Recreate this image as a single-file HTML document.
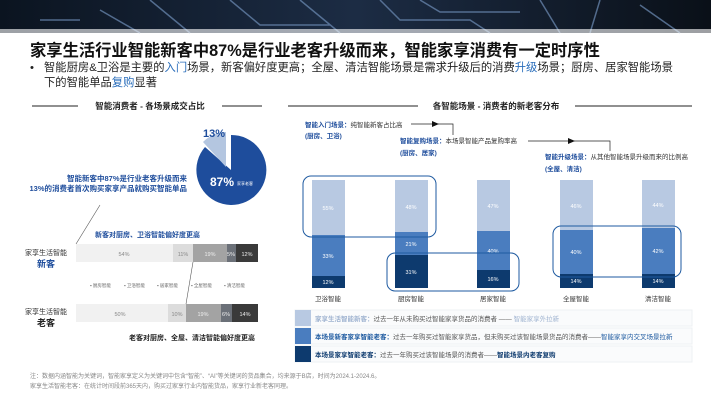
<!DOCTYPE html><html><head><meta charset="utf-8"><style>
body{margin:0;width:711px;height:400px;overflow:hidden;background:#fff;font-family:"Liberation Sans","Noto Sans CJK SC",sans-serif}
</style></head><body>
<svg width="711" height="400" viewBox="0 0 711 400" xmlns="http://www.w3.org/2000/svg" font-family="Liberation Sans, Noto Sans CJK SC, sans-serif">
<defs><linearGradient id="hg" x1="0" y1="0" x2="1" y2="0"><stop offset="0" stop-color="#0b1420"/><stop offset=".5" stop-color="#1c2c44"/><stop offset="1" stop-color="#0a1018"/></linearGradient></defs>
<rect x="0" y="0" width="711" height="33" fill="url(#hg)"/>
<g stroke="#6f8fb8" stroke-width="1.5" fill="none" opacity=".7">
<path d="M150 0 L190 33 M230 0 L260 25 L330 25 M300 0 L340 33 M380 0 L400 20 L470 20 L490 33 M420 0 L440 12 L520 12 M540 0 L560 33 M600 0 L590 33 M640 5 L680 33 M100 10 L140 33 M40 20 L80 20"/></g>
<rect x="0" y="29" width="711" height="5" fill="#fff" opacity=".6"/>
<text x="30" y="56" font-size="16.3" font-weight="bold" fill="#111">家享生活行业智能新客中87%是行业老客升级而来，智能家享消费有一定时序性</text>
<text x="30" y="71" font-size="11.3" fill="#222">•<tspan x="44">智能厨房&amp;卫浴是主要的</tspan><tspan fill="#2a6ebb">入门</tspan><tspan>场景，新客偏好度更高；全屋、清洁智能场景是需求升级后的消费</tspan><tspan fill="#2a6ebb">升级</tspan><tspan>场景；厨房、居家智能场景</tspan></text>
<text x="44" y="86" font-size="11.3" fill="#222">下的智能单品<tspan fill="#2a6ebb">复购</tspan>显著</text>
<g stroke="#222" stroke-width="1"><line x1="32" y1="106" x2="78" y2="106"/><line x1="222" y1="106" x2="262" y2="106"/><line x1="288" y1="106" x2="418" y2="106"/><line x1="575" y1="106" x2="692" y2="106"/></g>
<text x="150" y="109" font-size="8.5" font-weight="bold" text-anchor="middle" fill="#222">智能消费者 - 各场景成交占比</text>
<text x="496" y="109" font-size="8.5" font-weight="bold" text-anchor="middle" fill="#222">各智能场景 - 消费者的新老客分布</text>
<!-- pie -->
<path d="M231 170 L231 135 A35 35 0 1 1 205 147 Z" fill="#1e4d9c"/>
<path d="M226 167 L226 132 A35 35 0 0 0 203 142 Z" fill="#b4c6e0"/>
<text x="203" y="137" font-size="11" font-weight="bold" fill="#1e4d9c">13%</text>
<text x="210" y="186" font-size="12" font-weight="bold" fill="#fff">87%</text>
<text x="237" y="185" font-size="4" fill="#fff">家享老客</text>
<text x="187" y="181" font-size="7.5" font-weight="bold" text-anchor="end" fill="#1e4d9c">智能新客中87%是行业老客升级而来</text>
<text x="187" y="191" font-size="7.5" font-weight="bold" text-anchor="end" fill="#1e4d9c">13%的消费者首次购买家享产品就购买智能单品</text>
<line x1="100" y1="205" x2="76" y2="244" stroke="#555" stroke-width=".6"/>
<line x1="193" y1="262" x2="186" y2="304" stroke="#555" stroke-width=".6"/>
<text x="95" y="237" font-size="7" font-weight="bold" fill="#1e4d9c">新客对厨房、卫浴智能偏好度更高</text>
<rect x="76" y="244" width="97" height="18" fill="#f1f1f1"/><rect x="173" y="244" width="20" height="18" fill="#dcdcdc"/><rect x="193" y="244" width="34" height="18" fill="#a3a3a3"/><rect x="227" y="244" width="9" height="18" fill="#6b7078"/><rect x="236" y="244" width="22" height="18" fill="#3a3a3a"/>
<rect x="76" y="304" width="92" height="18" fill="#f1f1f1"/><rect x="168" y="304" width="18" height="18" fill="#dcdcdc"/><rect x="186" y="304" width="35" height="18" fill="#a3a3a3"/><rect x="221" y="304" width="11" height="18" fill="#6b7078"/><rect x="232" y="304" width="26" height="18" fill="#3a3a3a"/>
<g font-size="5.5" fill="#888" text-anchor="middle"><text x="124" y="256">54%</text><text x="183" y="256">11%</text><text x="210" y="256" fill="#eee">19%</text><text x="231" y="256" fill="#eee">5%</text><text x="247" y="256" fill="#eee">12%</text>
<text x="120" y="316">50%</text><text x="177" y="316">10%</text><text x="203" y="316" fill="#eee">19%</text><text x="226" y="316" fill="#eee">6%</text><text x="245" y="316" fill="#eee">14%</text></g>
<g font-size="4.5" fill="#666"><text x="90" y="287">▪ 厨房智能</text><text x="124" y="287">▪ 卫浴智能</text><text x="157" y="287">▪ 居家智能</text><text x="191" y="287">▪ 全屋智能</text><text x="224" y="287">▪ 清洁智能</text></g>
<text x="46" y="255" font-size="7" text-anchor="middle" fill="#333">家享生活智能</text>
<text x="46" y="267" font-size="9" font-weight="bold" text-anchor="middle" fill="#1e4d9c">新客</text>
<text x="46" y="314" font-size="7" text-anchor="middle" fill="#333">家享生活智能</text>
<text x="46" y="326" font-size="9" font-weight="bold" text-anchor="middle" fill="#222">老客</text>
<text x="255" y="340" font-size="7" font-weight="bold" text-anchor="end" fill="#222">老客对厨房、全屋、清洁智能偏好度更高</text>
<!-- right annotations -->
<g font-size="6.5" fill="#333">
<text x="305" y="127"><tspan fill="#1e4d9c" font-weight="bold">智能入门场景：</tspan>纯智能新客占比高</text><text x="305" y="138" fill="#1e4d9c" font-weight="bold">(厨房、卫浴)</text>
<text x="400" y="143"><tspan fill="#1e4d9c" font-weight="bold">智能复购场景：</tspan>本场景智能产品复购率高</text><text x="400" y="155" fill="#1e4d9c" font-weight="bold">(厨房、居家)</text>
<text x="545" y="159"><tspan fill="#1e4d9c" font-weight="bold">智能升级场景：</tspan>从其他智能场景升级而来的比例高</text><text x="545" y="171" fill="#1e4d9c" font-weight="bold">(全屋、清洁)</text></g>
<g stroke="#222" stroke-width=".7" fill="none"><path d="M411 124 L453 124 L453 135"/><path d="M528 141 L610 141 L610 151"/></g>
<path d="M432 121 L439 124 L432 127Z M568 138 L575 141 L568 144Z" fill="#111"/>
<!-- bars -->
<g>
<rect x="312" y="180" width="33" height="55" fill="#b8c9e2"/><rect x="312" y="235" width="33" height="41" fill="#4a7dbf"/><rect x="312" y="276" width="33" height="12" fill="#0d3a6e"/>
<rect x="395" y="180" width="33" height="52" fill="#b8c9e2"/><rect x="395" y="232" width="33" height="23" fill="#4a7dbf"/><rect x="395" y="255" width="33" height="33" fill="#0d3a6e"/>
<rect x="477" y="180" width="33" height="51" fill="#b8c9e2"/><rect x="477" y="231" width="33" height="39" fill="#4a7dbf"/><rect x="477" y="270" width="33" height="18" fill="#0d3a6e"/>
<rect x="560" y="180" width="33" height="50" fill="#b8c9e2"/><rect x="560" y="230" width="33" height="44" fill="#4a7dbf"/><rect x="560" y="274" width="33" height="14" fill="#0d3a6e"/>
<rect x="642" y="180" width="33" height="48" fill="#b8c9e2"/><rect x="642" y="228" width="33" height="46" fill="#4a7dbf"/><rect x="642" y="274" width="33" height="14" fill="#0d3a6e"/></g>
<g font-size="5.5" fill="#fff" text-anchor="middle">
<text x="328" y="210">55%</text><text x="328" y="258">33%</text><text x="328" y="284">12%</text>
<text x="411" y="209">48%</text><text x="411" y="246">21%</text><text x="411" y="274">31%</text>
<text x="493" y="208">47%</text><text x="493" y="253">40%</text><text x="493" y="281">16%</text>
<text x="576" y="208">46%</text><text x="576" y="254">40%</text><text x="576" y="283">14%</text>
<text x="658" y="207">44%</text><text x="658" y="253">42%</text><text x="658" y="283">14%</text></g>
<g fill="none" stroke="#1e5aa0" stroke-width="1"><rect x="303" y="176" width="133" height="61" rx="8"/><rect x="387" y="253" width="132" height="38" rx="8"/><rect x="553" y="226" width="128" height="51" rx="8"/></g>
<g font-size="6.5" fill="#333" text-anchor="middle"><text x="328" y="301">卫浴智能</text><text x="411" y="301">厨房智能</text><text x="493" y="301">居家智能</text><text x="576" y="301">全屋智能</text><text x="658" y="301">清洁智能</text></g>
<!-- legend rows -->
<g><rect x="295" y="310" width="397" height="16" fill="#fafbfc" stroke="#eef0f3"/><rect x="295" y="328" width="397" height="16" fill="#fafbfc" stroke="#eef0f3"/><rect x="295" y="346" width="397" height="16" fill="#fafbfc" stroke="#eef0f3"/>
<rect x="295" y="310" width="16" height="16" fill="#b8c9e2"/><rect x="295" y="328" width="16" height="16" fill="#4a7dbf"/><rect x="295" y="346" width="16" height="16" fill="#0d3a6e"/></g>
<g font-size="6.5"><text x="315" y="321" fill="#9fb3d0"><tspan font-weight="bold">家享生活智能新客：</tspan><tspan fill="#555">过去一年从未购买过智能家享货品的消费者 —— </tspan>智能家享外拉新</text>
<text x="315" y="339" fill="#1e5aa0"><tspan font-weight="bold">本场景新客家享智能老客：</tspan><tspan fill="#555">过去一年购买过智能家享货品，但未购买过该智能场景货品的消费者——</tspan>智能家享内交叉场景拉新</text>
<text x="315" y="357" fill="#0d3a6e" font-weight="bold">本场景家享智能老客：<tspan fill="#555" font-weight="normal">过去一年购买过该智能场景的消费者——</tspan>智能场景内老客复购</text></g>
<g font-size="6" fill="#888"><text x="30" y="378">注：数据内涵智能为关键词，智能家享定义为关键词中包含“智能”、“AI”等关键词的货品集合，均来源于B店，时间为2024.1-2024.6。</text>
<text x="30" y="388">家享生活智能老客：在统计时间段前365天内，购买过家享行业内智能货品，家享行业新老客同理。</text></g>
</svg>
</body></html>
